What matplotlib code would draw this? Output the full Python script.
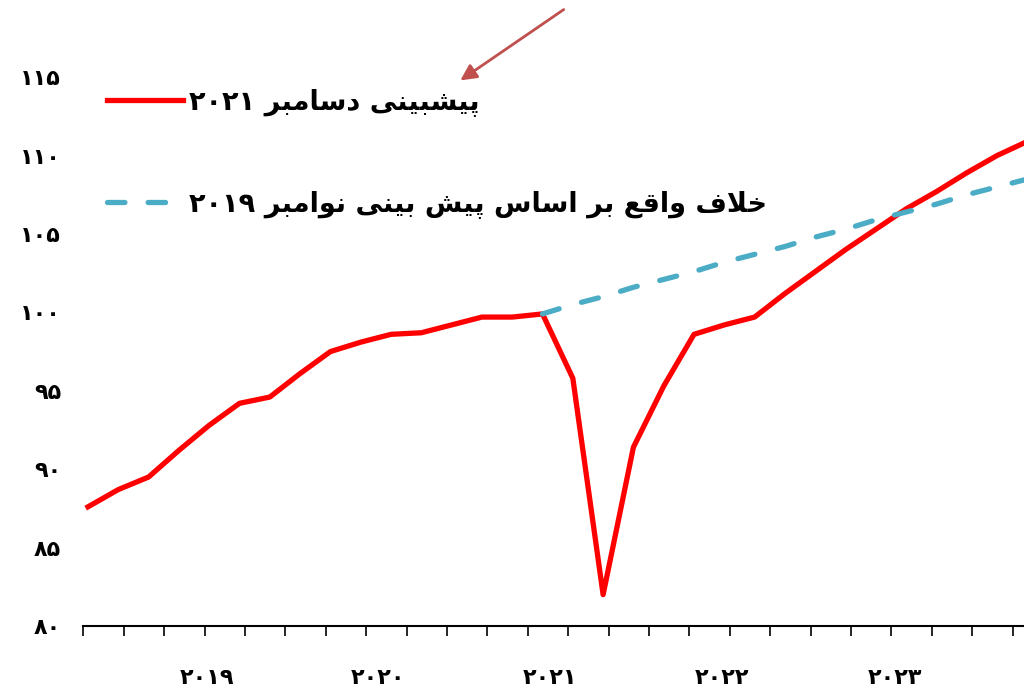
import numpy as np
import matplotlib
matplotlib.use('Agg')
import matplotlib.pyplot as plt
from matplotlib.lines import Line2D

plt.rcParams['font.family'] = ['DejaVu Sans']

# Series values
forecast_dec2021 = [87.6, 88.7, 89.5, 91.2, 92.8, 94.2, 94.6, 96.1, 97.5, 98.1,
                    98.6, 98.7, 99.2, 99.7, 99.7, 99.9, 95.8, 82.0, 91.4, 95.3,
                    98.6, 99.2, 99.7, 101.2, 102.6, 104.0, 105.3, 106.6, 107.7,
                    108.9, 110.0, 110.9]
counterfactual_nov2019 = [99.9, 100.5, 101.0, 101.6, 102.1, 102.6, 103.2, 103.7,
                          104.2, 104.8, 105.3, 105.9, 106.4, 106.9, 107.5, 108.0,
                          108.5]
counterfactual_start = 15

year_labels = ['2019', '2020', '2021', '2022', '2023']
year_label_pos = [3.93, 9.57, 15.25, 20.92, 26.63]
y_ticks = [80, 85, 90, 95, 100, 105, 110, 115]

label_red = 'پیشبینی دسامبر 2021'
label_blue = 'خلاف واقع بر اساس پیش بینی نوامبر 2019'

# --- minimal Arabic-script shaping (matplotlib has no text shaping) ---
FA_DIGITS = str.maketrans('0123456789', '۰۱۲۳۴۵۶۷۸۹')
FORMS = {
    'ا': ('\uFE8D', '\uFE8E', None, None),
    'ب': ('\uFE8F', '\uFE90', '\uFE91', '\uFE92'),
    'پ': ('\uFB56', '\uFB57', '\uFB58', '\uFB59'),
    'خ': ('\uFEA5', '\uFEA6', '\uFEA7', '\uFEA8'),
    'د': ('\uFEA9', '\uFEAA', None, None),
    'ر': ('\uFEAD', '\uFEAE', None, None),
    'س': ('\uFEB1', '\uFEB2', '\uFEB3', '\uFEB4'),
    'ش': ('\uFEB5', '\uFEB6', '\uFEB7', '\uFEB8'),
    'ع': ('\uFEC9', '\uFECA', '\uFECB', '\uFECC'),
    'ف': ('\uFED1', '\uFED2', '\uFED3', '\uFED4'),
    'ق': ('\uFED5', '\uFED6', '\uFED7', '\uFED8'),
    'ل': ('\uFEDD', '\uFEDE', '\uFEDF', '\uFEE0'),
    'م': ('\uFEE1', '\uFEE2', '\uFEE3', '\uFEE4'),
    'ن': ('\uFEE5', '\uFEE6', '\uFEE7', '\uFEE8'),
    'و': ('\uFEED', '\uFEEE', None, None),
    'ی': ('\uFBFC', '\uFBFD', '\uFBFE', '\uFBFF'),
}
LAM_ALEF = ('\uFEFB', '\uFEFC')


def shape_word(word):
    units = []
    k = 0
    while k < len(word):
        if word[k] == 'ل' and word[k + 1:k + 2] == 'ا':
            units.append('لا')
            k += 2
        else:
            units.append(word[k])
            k += 1
    out = []
    for k, u in enumerate(units):
        prev = units[k - 1] if k > 0 else None
        nxt = units[k + 1] if k + 1 < len(units) else None
        joins_prev = prev in FORMS and FORMS[prev][2] is not None
        dual = u in FORMS and FORMS[u][2] is not None
        joins_next = dual and (nxt in FORMS or nxt == 'لا')
        if u == 'لا':
            out.append(LAM_ALEF[1] if joins_prev else LAM_ALEF[0])
        elif u in FORMS:
            f = FORMS[u]
            if joins_prev and joins_next:
                out.append(f[3])
            elif joins_prev:
                out.append(f[1])
            elif joins_next:
                out.append(f[2])
            else:
                out.append(f[0])
        else:
            out.append(u)
    return ''.join(reversed(out))


def rtl(text):
    words = text.split(' ')
    vis = [w.translate(FA_DIGITS) if w.isdigit() else shape_word(w) for w in words]
    return ' '.join(reversed(vis))


fig = plt.figure(figsize=(10.24, 6.91), dpi=100)
ax = fig.add_axes([83.3 / 1024, 65 / 691, 940.7 / 1024, 626 / 691])

x_red = np.arange(len(forecast_dec2021))
x_blue = np.arange(len(counterfactual_nov2019)) + counterfactual_start

ax.plot(x_red, forecast_dec2021, color='#FF0000', lw=3.8, zorder=3)
ax.plot(x_blue, counterfactual_nov2019, color='#4BACC6', lw=3.8,
        dashes=(3.3, 4.4), dash_capstyle='round', zorder=4)

ax.set_xlim(-0.155, 30.89)
ax.set_ylim(80, 119.92)

for s in ['top', 'right', 'left']:
    ax.spines[s].set_visible(False)
ax.spines['bottom'].set_linewidth(1.5)

ax.set_yticks(y_ticks)
ax.set_yticklabels([str(v).translate(FA_DIGITS) for v in y_ticks],
                   fontsize=16, fontweight='bold')
ax.tick_params(axis='y', length=0, pad=16)

ax.set_xticks(year_label_pos)
ax.set_xticklabels([y.translate(FA_DIGITS) for y in year_labels],
                   fontsize=16, fontweight='bold')
ax.set_xticks(np.arange(-0.155, 30.9, 4 / 3), minor=True)
ax.tick_params(axis='x', which='major', length=0, pad=30)
ax.tick_params(axis='x', which='minor', length=7, width=1.2, direction='out')

handles = [Line2D([], [], color='#FF0000', lw=3.8),
           Line2D([], [], color='#4BACC6', lw=3.8, dashes=(3.3, 4.4), dash_capstyle='round')]
ax.legend(handles, [rtl(label_red), rtl(label_blue)], loc='upper left',
          bbox_to_anchor=(24 / 940.7, 1 - 88 / 626), frameon=False,
          prop={'size': 19.5, 'weight': 'bold'}, handlelength=2.8,
          handletextpad=0.2, labelspacing=2.75, borderpad=0, borderaxespad=0)

ax.annotate('', xy=(458, 691 - 82), xycoords='figure pixels',
            xytext=(566, 691 - 8), textcoords='figure pixels',
            arrowprops=dict(arrowstyle='-|>', color='#C0504D', lw=2,
                            mutation_scale=24))

fig.savefig('out.png', dpi=100)
